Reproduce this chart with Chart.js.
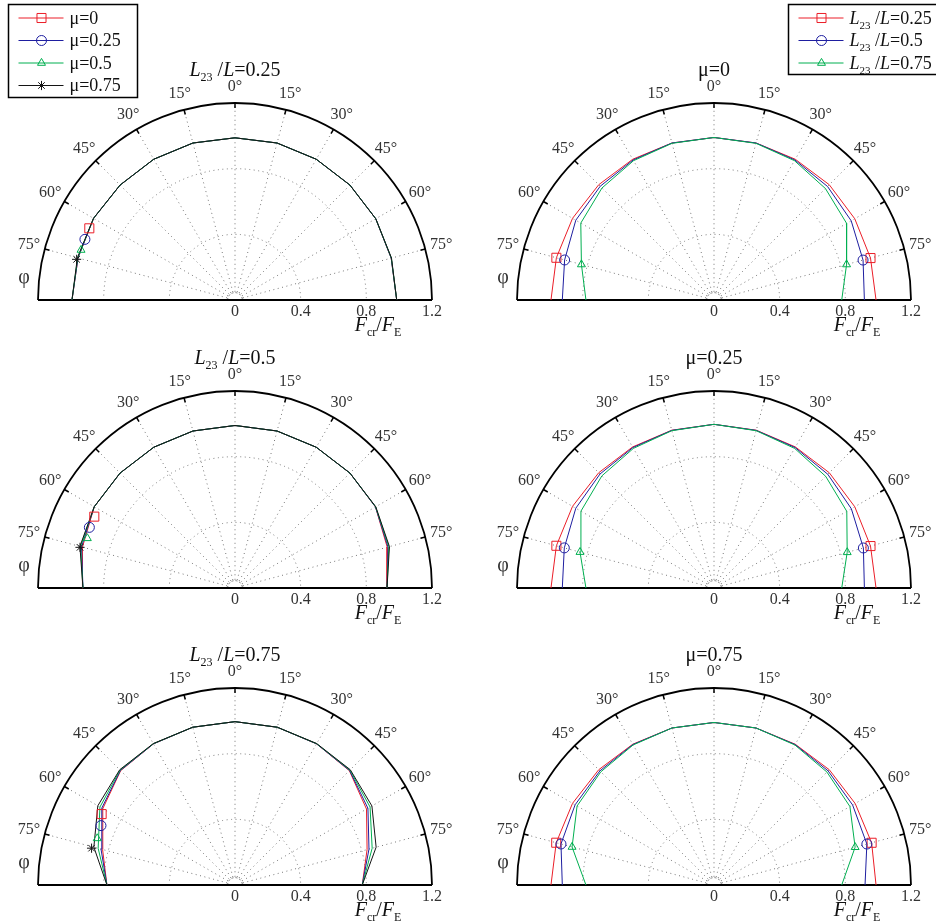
<!DOCTYPE html>
<html>
<head>
<meta charset="utf-8">
<script src="https://cdn.jsdelivr.net/npm/chart.js@4.4.1/dist/chart.umd.min.js"></script>
<style>
  body { margin: 0; background: #fff; }
  #wrap { position: relative; width: 936px; height: 924px; overflow: hidden; }
  canvas { position: absolute; }
</style>
</head>
<body>
<div id="wrap">
  <canvas id="c0"></canvas><canvas id="c1"></canvas>
  <canvas id="c2"></canvas><canvas id="c3"></canvas>
  <canvas id="c4"></canvas><canvas id="c5"></canvas>
</div>
<script>
// angle phi (degrees), negative = left half of the plot
const phiDeg = [-90, -75, -60, -45, -30, -15, 0, 15, 30, 45, 60, 75, 90];
const radialTicks = [0, 0.4, 0.8, 1.2];
const angleTicks = [-75, -60, -45, -30, -15, 0, 15, 30, 45, 60, 75];

// left column: L23/L = 0.25, 0.5, 0.75 ; series mu = 0, 0.25, 0.5, 0.75
const muLabels = ['μ=0', 'μ=0.25', 'μ=0.5', 'μ=0.75'];
const l025_mu0  = [0.993, 0.99, 0.995, 0.99, 0.99, 0.99, 0.988, 0.99, 0.99, 0.99, 0.99, 0.985, 0.985];
const l025_mu25 = [0.993, 0.99, 0.995, 0.99, 0.99, 0.99, 0.988, 0.99, 0.99, 0.99, 0.99, 0.985, 0.985];
const l025_mu50 = [0.993, 0.992, 0.995, 0.99, 0.99, 0.99, 0.988, 0.99, 0.99, 0.99, 0.99, 0.986, 0.985];
const l025_mu75 = [0.993, 0.994, 0.995, 0.99, 0.99, 0.99, 0.988, 0.99, 0.99, 0.99, 0.99, 0.987, 0.985];
const l025_markPhi = [-63.8, -68, -72, -75.6];
const l025_markR = [0.989, 0.986, 0.986, 0.996];

const l05_mu0  = [0.926, 0.962, 0.99, 0.99, 0.99, 0.99, 0.99, 0.99, 0.99, 0.99, 0.988, 0.96, 0.926];
const l05_mu25 = [0.926, 0.968, 0.99, 0.99, 0.99, 0.99, 0.99, 0.99, 0.99, 0.99, 0.988, 0.965, 0.926];
const l05_mu50 = [0.926, 0.974, 0.99, 0.99, 0.99, 0.99, 0.99, 0.99, 0.99, 0.99, 0.989, 0.97, 0.926];
const l05_mu75 = [0.926, 0.978, 0.99, 0.99, 0.99, 0.99, 0.99, 0.99, 0.99, 0.99, 0.99, 0.974, 0.926];
const l05_markPhi = [-63.1, -67.4, -71.4, -75.3];
const l05_markR = [0.961, 0.961, 0.949, 0.976];

const l075_mu0  = [0.78, 0.835, 0.93, 0.985, 0.993, 0.995, 0.995, 0.995, 0.993, 0.985, 0.925, 0.833, 0.775];
const l075_mu25 = [0.78, 0.845, 0.937, 0.987, 0.993, 0.995, 0.995, 0.995, 0.993, 0.987, 0.935, 0.845, 0.775];
const l075_mu50 = [0.78, 0.863, 0.95, 0.99, 0.994, 0.995, 0.995, 0.995, 0.994, 0.99, 0.95, 0.865, 0.775];
const l075_mu75 = [0.78, 0.89, 0.965, 0.993, 0.995, 0.995, 0.995, 0.995, 0.995, 0.993, 0.963, 0.89, 0.775];
const l075_markPhi = [-62, -66.1, -71.3, -75.6];
const l075_markR = [0.92, 0.893, 0.886, 0.902];

// right column: mu = 0, 0.25, 0.75 ; series L23/L = 0.25, 0.5, 0.75
const lLabels = ['=0.25', '=0.5', '=0.75'];
const mu0_l025 = [0.993, 0.994, 0.995, 0.993, 0.99, 0.99, 0.99, 0.99, 0.99, 0.993, 0.99, 0.987, 0.987];
const mu0_l05  = [0.924, 0.942, 0.972, 0.98, 0.985, 0.99, 0.99, 0.99, 0.985, 0.978, 0.965, 0.94, 0.916];
const mu0_l075 = [0.78, 0.836, 0.937, 0.965, 0.98, 0.988, 0.99, 0.988, 0.98, 0.96, 0.933, 0.836, 0.778];

const mu25_l025 = [0.993, 0.994, 0.995, 0.993, 0.992, 0.995, 0.997, 0.995, 0.992, 0.993, 0.99, 0.987, 0.987];
const mu25_l05  = [0.924, 0.944, 0.972, 0.982, 0.988, 0.994, 0.997, 0.994, 0.988, 0.98, 0.966, 0.942, 0.916];
const mu25_l075 = [0.78, 0.845, 0.936, 0.966, 0.982, 0.992, 0.997, 0.992, 0.982, 0.962, 0.934, 0.84, 0.778];

const mu75_l025 = [0.993, 0.995, 0.995, 0.993, 0.99, 0.99, 0.99, 0.99, 0.99, 0.993, 0.993, 0.994, 0.987];
const mu75_l05  = [0.924, 0.965, 0.977, 0.983, 0.988, 0.99, 0.99, 0.99, 0.988, 0.983, 0.975, 0.964, 0.92];
const mu75_l075 = [0.78, 0.895, 0.963, 0.975, 0.985, 0.99, 0.99, 0.99, 0.985, 0.973, 0.956, 0.89, 0.778];

const colors = ['rgb(235,30,40)', 'rgb(30,30,160)', 'rgb(0,175,80)', 'rgb(20,20,20)'];
const styles = ['rect', 'circle', 'triangle', 'star'];
const sizes = [6.4, 5, 4.6, 4.6];
const FONT = '"Liberation Serif", "DejaVu Serif", serif';
const R_PX = 197;

const rad = d => d * Math.PI / 180;
const toXY = (r, p) => ({ x: r * Math.sin(rad(p)), y: r * Math.cos(rad(p)) });

function rich(ctx, parts, x, y, size, align) {
  const fontOf = k => (k === 'i' ? 'italic ' : '') + (k === 's' ? Math.round(size * 0.62) : size) + 'px ' + FONT;
  let w = 0;
  parts.forEach(([t, k]) => { ctx.font = fontOf(k); w += ctx.measureText(t).width; });
  let xx = align === 'left' ? x : x - w / 2;
  ctx.textAlign = 'left';
  ctx.textBaseline = 'alphabetic';
  parts.forEach(([t, k]) => {
    ctx.font = fontOf(k);
    ctx.fillText(t, xx, y + size * 0.33 + (k === 's' ? size * 0.28 : 0));
    xx += ctx.measureText(t).width;
  });
}
const lTitle = v => [['L', 'i'], ['23', 's'], [' /', 'n'], ['L', 'i'], [v, 'n']];

function drawLegend(ctx, box, entries) {
  ctx.save();
  ctx.fillStyle = '#fff';
  ctx.fillRect(box.x, box.y, box.w, box.h);
  ctx.strokeStyle = '#000';
  ctx.lineWidth = 1.5;
  ctx.strokeRect(box.x, box.y, box.w, box.h);
  entries.forEach((e, i) => {
    const y = box.y + 13.5 + i * box.step;
    ctx.strokeStyle = colors[i];
    ctx.lineWidth = 1;
    ctx.setLineDash([]);
    ctx.beginPath();
    ctx.moveTo(box.x + 10, y);
    ctx.lineTo(box.x + 55, y);
    ctx.stroke();
    ctx.fillStyle = 'rgba(0,0,0,0)';
    Chart.helpers.drawPoint(ctx, { pointStyle: styles[i], radius: sizes[i], rotation: 0, borderWidth: 1 }, box.x + 33, y);
    ctx.fillStyle = '#111';
    rich(ctx, e, box.x + 61, y, 18, 'left');
  });
  ctx.restore();
}

const polarFrame = {
  id: 'polarFrame',
  beforeDatasetsDraw(chart) {
    const { ctx, scales: { x, y } } = chart;
    const px = (r, p) => { const q = toXY(r, p); return [x.getPixelForValue(q.x), y.getPixelForValue(q.y)]; };
    const cx = x.getPixelForValue(0), cy = y.getPixelForValue(0);
    const unit = x.getPixelForValue(1) - cx;
    ctx.save();
    ctx.strokeStyle = '#777';
    ctx.lineWidth = 1;
    ctx.setLineDash([1, 3.5]);
    [0.4, 0.8].forEach(r => {
      ctx.beginPath();
      ctx.arc(cx, cy, r * unit, Math.PI, 2 * Math.PI);
      ctx.stroke();
    });
    angleTicks.forEach(p => {
      const a = px(0.05, p), b = px(1.2, p);
      ctx.beginPath();
      ctx.moveTo(a[0], a[1]);
      ctx.lineTo(b[0], b[1]);
      ctx.stroke();
    });
    ctx.setLineDash([2, 2]);
    ctx.beginPath();
    ctx.arc(cx, cy, 0.045 * unit, Math.PI, 2 * Math.PI);
    ctx.stroke();
    ctx.setLineDash([]);
    ctx.strokeStyle = '#000';
    ctx.lineWidth = 1.8;
    ctx.beginPath();
    ctx.arc(cx, cy, 1.2 * unit, Math.PI, 2 * Math.PI);
    ctx.moveTo(x.getPixelForValue(1.2), cy);
    ctx.lineTo(x.getPixelForValue(-1.2), cy);
    ctx.stroke();
    ctx.lineWidth = 1.5;
    angleTicks.forEach(p => {
      const a = px(1.2, p), b = px(1.2 - 5 / unit, p);
      ctx.beginPath();
      ctx.moveTo(a[0], a[1]);
      ctx.lineTo(b[0], b[1]);
      ctx.stroke();
    });
    ctx.restore();
  },
  afterDraw(chart) {
    const { ctx, scales: { x, y } } = chart;
    const o = chart.options.plugins.polarFrame;
    const cx = x.getPixelForValue(0), cy = y.getPixelForValue(0);
    ctx.save();
    ctx.fillStyle = '#333';
    ctx.font = '16px ' + FONT;
    ctx.textAlign = 'center';
    ctx.textBaseline = 'middle';
    angleTicks.forEach(p => {
      const q = toXY(1.3, p);
      ctx.fillText(Math.abs(p) + '°', x.getPixelForValue(q.x), y.getPixelForValue(q.y));
    });
    radialTicks.forEach(r => ctx.fillText(String(r), x.getPixelForValue(r), cy + 12));
    ctx.font = '20px ' + FONT;
    ctx.fillText('φ', cx - 211, cy - 22);
    ctx.fillStyle = '#111';
    rich(ctx, [['F', 'i'], ['cr', 's'], ['/', 'n'], ['F', 'i'], ['E', 's']], cx + 143, cy + 24, 20);
    rich(ctx, o.title, cx, cy - 231, 20);
    if (o.legend) drawLegend(ctx, o.legend.box, o.legend.entries);
    ctx.restore();
  }
};

const panels = [
  { id: 'c0', col: 0, row: 0, title: lTitle('=0.25'), series: [l025_mu0, l025_mu25, l025_mu50, l025_mu75], mPhi: l025_markPhi, mR: l025_markR,
    legend: { box: { x: 8.5, y: 4.5, w: 129, h: 93, step: 22.5 }, entries: muLabels.map(t => [[t, 'n']]) } },
  { id: 'c1', col: 1, row: 0, title: [['μ=0', 'n']], series: [mu0_l025, mu0_l05, mu0_l075],
    legend: { box: { x: 320.5, y: 4.5, w: 160, h: 70, step: 22.5 }, entries: lLabels.map(v => lTitle(v)) } },
  { id: 'c2', col: 0, row: 1, title: lTitle('=0.5'), series: [l05_mu0, l05_mu25, l05_mu50, l05_mu75], mPhi: l05_markPhi, mR: l05_markR },
  { id: 'c3', col: 1, row: 1, title: [['μ=0.25', 'n']], series: [mu25_l025, mu25_l05, mu25_l075] },
  { id: 'c4', col: 0, row: 2, title: lTitle('=0.75'), series: [l075_mu0, l075_mu25, l075_mu50, l075_mu75], mPhi: l075_markPhi, mR: l075_markR },
  { id: 'c5', col: 1, row: 2, title: [['μ=0.75', 'n']], series: [mu75_l025, mu75_l05, mu75_l075] }
];
// canvases overlap a little; they are transparent
const rowTop = [0, 325, 615], rowH = [345, 305, 309], rowCy = [300, 588, 885];
const colLeft = [0, 468], colCx = [235, 714];

panels.forEach(pn => {
  const cv = document.getElementById(pn.id);
  const left = colLeft[pn.col], top = rowTop[pn.row], h = rowH[pn.row];
  const cx = colCx[pn.col] - left, cy = rowCy[pn.row] - top;
  cv.width = 468; cv.height = h;
  cv.style.left = left + 'px'; cv.style.top = top + 'px';

  const n = pn.series.length;
  // lower order is drawn on top: later series over earlier ones, markers over all
  const datasets = pn.series.map((s, i) => ({
    data: phiDeg.map((p, k) => toXY(s[k], p)),
    order: 10 + n - i,
    showLine: true,
    borderColor: colors[i],
    borderWidth: 1,
    pointStyle: styles[i],
    pointRadius: pn.mPhi ? 0 : phiDeg.map(p => Math.abs(p) === 75 ? sizes[i] : 0),
    pointBorderColor: colors[i],
    pointBackgroundColor: 'rgba(0,0,0,0)',
    pointBorderWidth: 1,
    clip: false
  }));
  if (pn.mPhi) {
    pn.mPhi.forEach((p, i) => datasets.push({
      data: [toXY(pn.mR[i], p)],
      order: n - i,
      showLine: false,
      pointStyle: styles[i],
      pointRadius: sizes[i],
      pointBorderColor: colors[i],
      pointBackgroundColor: 'rgba(0,0,0,0)',
      pointBorderWidth: 1,
      clip: false
    }));
  }

  new Chart(cv, {
    type: 'scatter',
    data: { datasets },
    options: {
      responsive: false,
      animation: false,
      events: [],
      layout: { padding: { left: cx - R_PX, right: 468 - cx - R_PX, top: cy - R_PX, bottom: h - cy } },
      scales: {
        x: { type: 'linear', min: -1.2, max: 1.2, display: false },
        y: { type: 'linear', min: 0, max: 1.2, display: false }
      },
      plugins: {
        legend: { display: false },
        tooltip: { enabled: false },
        polarFrame: { title: pn.title, legend: pn.legend }
      }
    },
    plugins: [polarFrame]
  });
});
</script>
</body>
</html>
